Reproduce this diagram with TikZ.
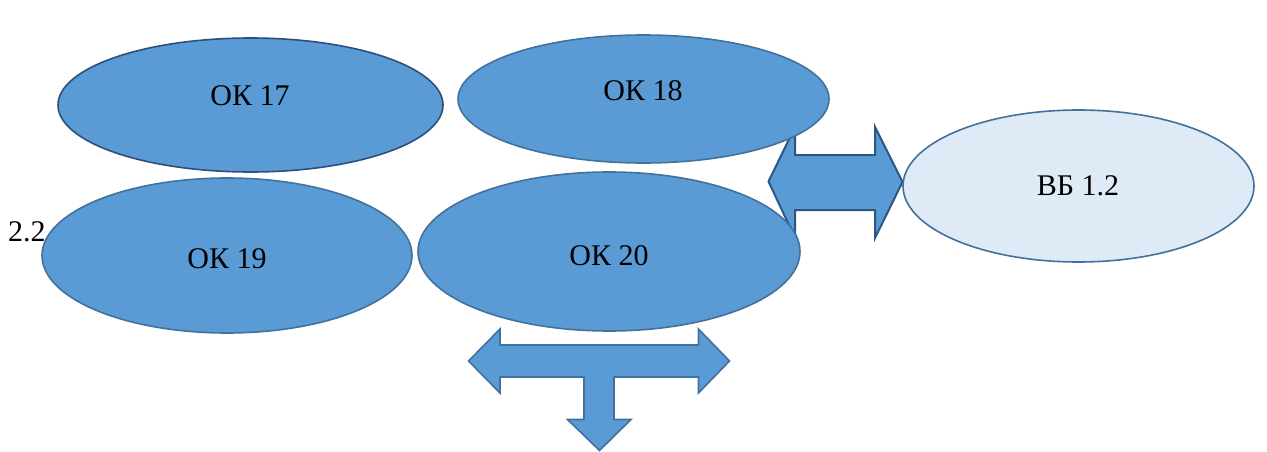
\documentclass[tikz,border=0pt]{standalone}
\usepackage{fontspec}
\setmainfont{Liberation Serif}
\usetikzlibrary{shapes.geometric}
\definecolor{fillblue}{HTML}{5B9BD5}
\definecolor{edgeblue}{HTML}{41719C}
\definecolor{darkedge}{HTML}{2C4F7C}
\definecolor{arrowedge}{HTML}{2A5783}
\definecolor{lightblue}{HTML}{DEEAF6}
\begin{document}
\begin{tikzpicture}[x=1pt,y=-1pt,
  oval/.style={draw=edgeblue,fill=fillblue,line width=1.6pt},
  bigarrow/.style={draw=edgeblue,fill=fillblue,line width=1.6pt,line join=miter},
  lbl/.style={font=\fontsize{30}{35}\selectfont,inner sep=0pt}]
\useasboundingbox (0,0) rectangle (1267,452);
% double arrow
\draw[bigarrow,draw=arrowedge,line width=2pt] (768.5,181.5) coordinate (dl) -- (795,127) -- (795,155) -- (875,155) -- (875,127) -- (902.5,182) coordinate (dr) -- (875,238) -- (875,210) -- (795,210) -- (795,238) -- cycle;
% T arrow
\draw[bigarrow] (468.5,361) coordinate (tl) -- (500,329) -- (500,345) -- (698.5,345) -- (698.5,329) -- (729.5,361) coordinate (tr) -- (698.5,393) -- (698.5,377) -- (614,377) -- (614,419.5) -- (631,419.5) -- (599.5,450.5) coordinate (tb) -- (567.5,419.5) -- (584,419.5) -- (584,377) -- (500,377) -- (500,393) -- cycle;
% ellipses
\draw[oval,draw=darkedge] (250.5,105) ellipse [x radius=192.5,y radius=67];
\draw[oval] (643.5,99) ellipse [x radius=185.5,y radius=64];
\draw[oval] (227,255.5) ellipse [x radius=185,y radius=77.5];
\draw[oval] (609,251.5) ellipse [x radius=191,y radius=79.5];
\draw[oval,fill=lightblue] (1078.5,186) ellipse [x radius=175.5,y radius=76];
% labels
\node[lbl] (ok17) at (250,96) {ОК 17};
\node[lbl] (ok18) at (643,91) {ОК 18};
\node[lbl] (ok19) at (227,259) {ОК 19};
\node[lbl] (ok20) at (609,256) {ОК 20};
\node[lbl] (vb) at (1078,186) {ВБ 1.2};
\node[lbl] (num) at (27,232) {2.2};
\end{tikzpicture}
\end{document}
